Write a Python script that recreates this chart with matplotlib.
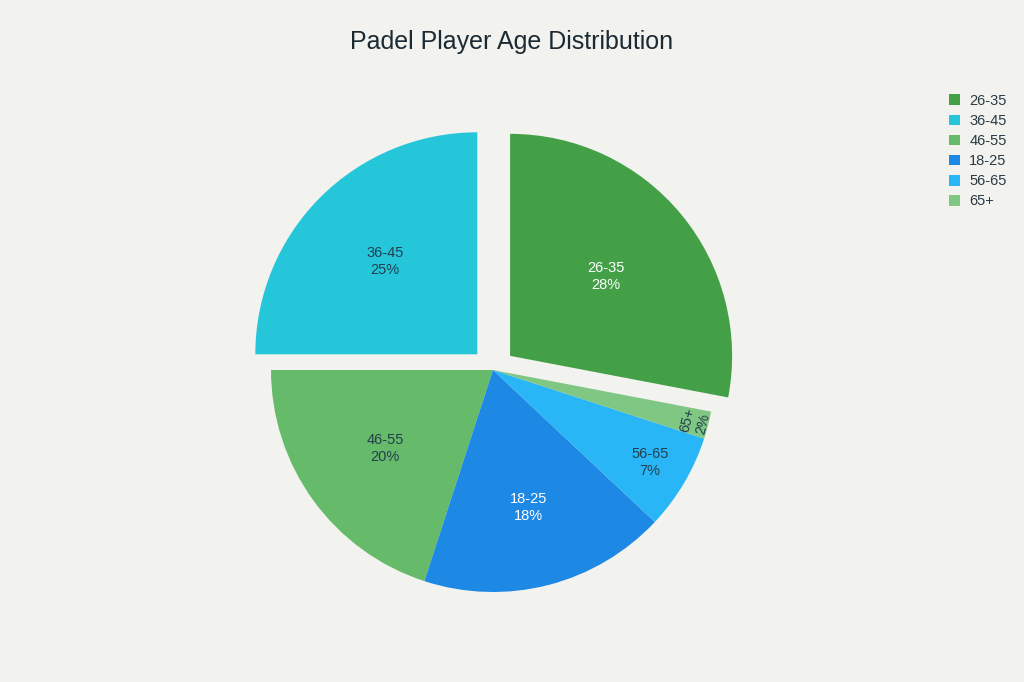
import numpy as np
import matplotlib.pyplot as plt

# data (sorted like the legend)
ages = ["26-35", "36-45", "46-55", "18-25", "56-65", "65+"]
shares = [28, 25, 20, 18, 7, 2]
colors = ["#43A047", "#26C6DA", "#66BB6A", "#1E88E5", "#29B6F6", "#81C784"]
explode = [0.1, 0.1, 0, 0, 0, 0]
txt_colors = ["white", "#23404f", "#23404f", "white", "#23404f", "#23404f"]

bg = "#F2F2EE"
plt.rcParams['font.family'] = ['Liberation Sans', 'DejaVu Sans']

fig = plt.figure(figsize=(10.24, 6.82), dpi=100, facecolor=bg)
ax = fig.add_axes([0, 0, 1, 1])
ax.set_facecolor(bg)

R = 222.0  # pixels per unit
cx, cy = 493, 682 - 370

wedges, texts = ax.pie(shares, colors=colors, explode=explode,
                       startangle=-10.8, counterclock=True, radius=1,
                       wedgeprops=dict(linewidth=0))

# labels inside the slices
fracs = [0.56, 0.59, 0.6, 0.64, 0.82, 0.94]
for w, lab, val, tc, f in zip(wedges, ages, shares, txt_colors, fracs):
    mid = np.deg2rad((w.theta1 + w.theta2) / 2)
    ox, oy = w.center
    x = ox + f * np.cos(mid)
    y = oy + f * np.sin(mid)
    rot = 0
    if val < 5:
        rot = np.rad2deg(mid) + 90
    ax.text(x, y, f"{lab}\n{val}%", ha="center", va="center", color=tc,
            fontsize=10.5, rotation=rot, rotation_mode="anchor", linespacing=1.25)

ax.set_xlim(-cx / R, (1024 - cx) / R)
ax.set_ylim(-cy / R, (682 - cy) / R)
ax.set_aspect("equal")
ax.axis("off")

fig.text(0.5, 1 - 42 / 682, "Padel Player Age Distribution", ha="center", va="center",
         fontsize=18, color="#1b2a33")

leg = ax.legend(wedges, ages, loc="upper left", bbox_to_anchor=(943 / 1024, 1 - 88 / 682),
                frameon=False, fontsize=10.5, handlelength=0.75, handleheight=0.75,
                handletextpad=0.65, labelspacing=0.42, borderaxespad=0,
                bbox_transform=fig.transFigure)
for t in leg.get_texts():
    t.set_color("#2a3a44")

fig.savefig("out.png", dpi=100, facecolor=bg)
